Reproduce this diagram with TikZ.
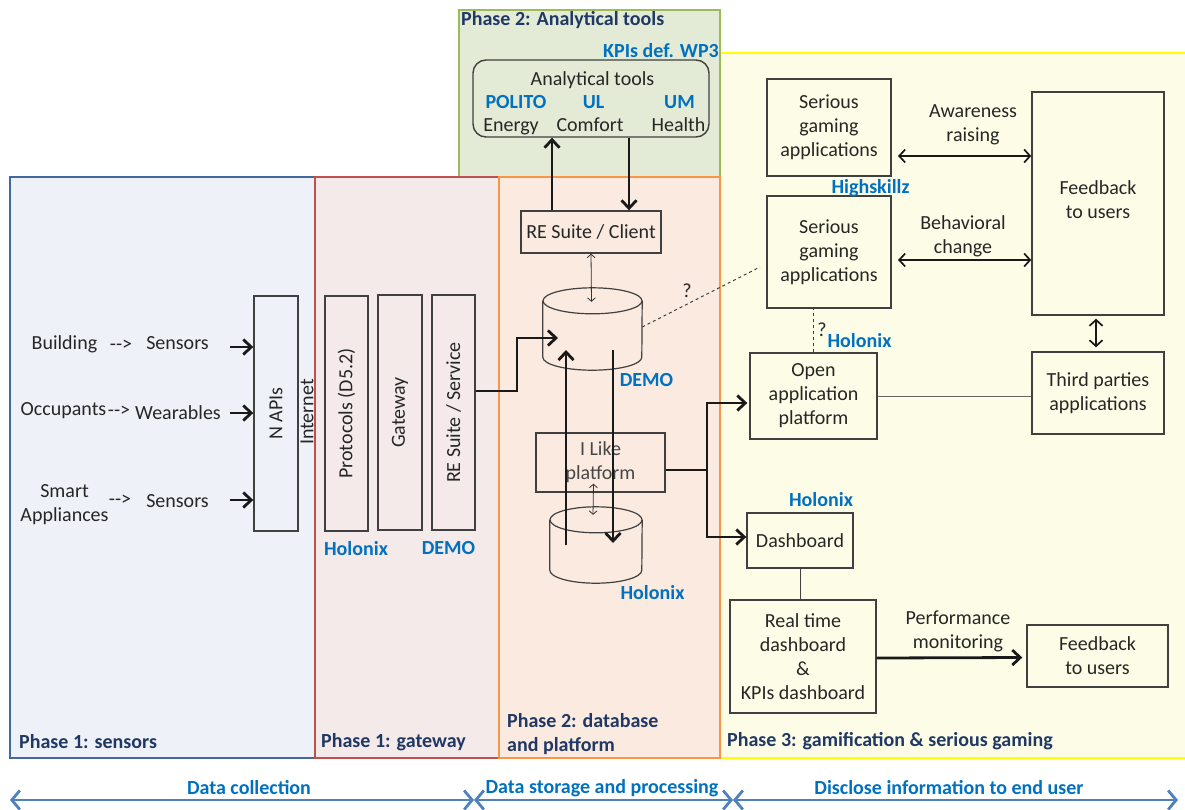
\documentclass[tikz,border=0pt]{standalone}
\usepackage{fontspec}
\setmainfont{Carlito}
\usetikzlibrary{arrows.meta,calc}
\definecolor{txt}{HTML}{262626}
\definecolor{boxc}{HTML}{404040}
\definecolor{navy}{HTML}{1F3864}
\definecolor{lblue}{HTML}{0070C0}
\definecolor{arrblue}{HTML}{4F81BD}
\definecolor{bluefill}{HTML}{EEF2F8}
\definecolor{blueline}{HTML}{43689F}
\definecolor{redfill}{HTML}{F5EAEA}
\definecolor{redline}{HTML}{C0504D}
\definecolor{orfill}{HTML}{FBEADF}
\definecolor{orline}{HTML}{F79646}
\definecolor{grfill}{HTML}{E3EBD6}
\definecolor{grline}{HTML}{9BBB59}
\definecolor{yefill}{HTML}{FDFDE7}
\definecolor{yeline}{HTML}{FFFF00}
\begin{document}
\begin{tikzpicture}[x=1pt,y=-1pt,
  every node/.style={font=\fontsize{20}{24}\selectfont, text=txt, inner sep=0pt, align=center},
  box/.style={draw=boxc, line width=1.4pt},
  lbl/.style={text=lblue, font=\fontsize{20}{24}\selectfont\bfseries},
  phaselbl/.style={text=navy, font=\fontsize{20}{24}\selectfont\bfseries, anchor=west, align=left},
  cyl/.style={draw=boxc, line width=1.2pt},
  tarr/.style={line width=2.8pt, draw=black!90, -{Straight Barb[length=8pt,width=15pt]}},
  tline/.style={line width=2.8pt, draw=black!90},
  darr/.style={line width=1.7pt, draw=black!90, {Straight Barb[length=6pt,width=13pt]}-{Straight Barb[length=6pt,width=13pt]}},
  sarr/.style={line width=0.8pt, draw=black!80, {Straight Barb[length=3.5pt,width=8pt]}-{Straight Barb[length=3.5pt,width=8pt]}},
  barr/.style={line width=2.8pt, draw=arrblue, {Straight Barb[length=8pt,width=19pt]}-{Straight Barb[length=8pt,width=19pt]}},
  bottxt/.style={text=lblue, font=\fontsize{20}{24}\selectfont\bfseries}
]
\useasboundingbox (0,0) rectangle (1185,809);
% regions
\fill[yefill] (720,53) rectangle (1185,758);
\draw[yeline, line width=2.5pt] (720,53) -- (1185,53);
\draw[yeline, line width=2.5pt] (720,758) -- (1185,758);
\draw[grline, fill=grfill, line width=2pt] (459,10) rectangle (720,177);
\draw[blueline, fill=bluefill, line width=2pt] (10,177) rectangle (315,758);
\draw[redline, fill=redfill, line width=2pt] (315,177) rectangle (499,758);
\draw[orline, fill=orfill, line width=2pt] (499,177) rectangle (720,758);

% phase labels
\node[phaselbl] (ph2a) at (461,20) {Phase 2: Analytical tools};
\node[lbl, anchor=east] (kpi) at (719,51) {KPIs def. WP3};
\node[phaselbl] (ph1s) at (19,742) {Phase 1: sensors};
\node[phaselbl] (ph1g) at (321,742) {Phase 1: gateway};
\node[phaselbl] (ph2d) at (507,734) {Phase 2: database\\and platform};
\node[phaselbl] (ph3) at (727,741) {Phase 3: gamification \& serious gaming};

% analytical tools
\node[box, rounded corners=13pt, minimum width=236pt, minimum height=77pt] (anal) at (591,98.5) {};
\node (antitle) at (592.5,80) {Analytical tools};
\node[lbl] (polito) at (516,102) {POLITO};
\node[lbl] (ul) at (593.5,102) {UL};
\node[lbl] (um) at (679.5,102) {UM};
\node[anchor=base] (energy) at (511,131) {Energy};
\node[anchor=base] (comfort) at (590,131) {Comfort};
\node[anchor=base] (health) at (678.5,131) {Health};

% client
\node[box, minimum width=140pt, minimum height=42pt] (client) at (591,232) {RE Suite / Client};
\draw[tarr] ([xshift=-39pt]client.north) -- ([xshift=-39pt]anal.south);
\draw[tarr] ([xshift=38pt]anal.south) -- ([xshift=38pt]client.north);

% cylinders
\node[minimum width=99pt, minimum height=82pt] (demo) at (592.5,329) {};
\draw[cyl] ($(demo.north west)+(0,13)$) -- ($(demo.south west)+(0,-13)$) arc[start angle=180,end angle=360,x radius=49.5pt,y radius=13pt] -- ($(demo.north east)+(0,13)$);
\draw[cyl] ($(demo.north)+(0,13)$) ellipse [x radius=49.5pt, y radius=13pt];
\node[lbl] (demolbl) at (646.5,380) {DEMO};

\node[minimum width=92pt, minimum height=76pt] (holcyl) at (596,545) {};
\draw[cyl] ($(holcyl.north west)+(0,13)$) -- ($(holcyl.south west)+(0,-13)$) arc[start angle=180,end angle=360,x radius=46pt,y radius=13pt] -- ($(holcyl.north east)+(0,13)$);
\draw[cyl] ($(holcyl.north)+(0,13)$) ellipse [x radius=46pt, y radius=13pt];
\node[lbl] (hollbl) at (652.5,593) {Holonix};

\draw[sarr] (client.south) -- ($(demo.north)+(-1,14)$);

% I like
\node[box, minimum width=129pt, minimum height=59pt, text=txt!85] (ilike) at (600.5,462.5) {I Like\\platform};
\draw[sarr] ($(ilike.south)+(-7,-9)$) -- ($(holcyl.north)+(-3,8)$);

\coordinate (upS) at (566,545);
\coordinate (upE) at (566,350);
\coordinate (dnS) at (613,350);
\coordinate (dnE) at (613,543);
\draw[tarr] (upS) -- (upE);
\draw[tarr] (dnS) -- (dnE);

% left sensors
\node (bld) at (64.5,344) {Building};
\node (d1) at (121,345) {-{}->};
\node (sen1) at (177.5,343) {Sensors};
\node (occ) at (63.5,411) {Occupants};
\node (d2) at (119,411) {-{}->};
\node (wear) at (178,413) {Wearables};
\node (smart) at (64.5,505) {Smart\\Appliances};
\node (d3) at (120,500) {-{}->};
\node (sen3) at (177.5,501) {Sensors};

\node[box, minimum width=44pt, minimum height=235pt] (napis) at (276,413.5) {};
\node[rotate=90] (napist) at (276,413.5) {N APIs};
\node[rotate=90] (inet) at (307,412) {Internet};
\coordinate (a1) at (230,347);
\coordinate (a2) at (230,413);
\coordinate (a3) at (230,500);
\draw[tarr] (a1) -- (a1 -| napis.west);
\draw[tarr] (a2) -- (a2 -| napis.west);
\draw[tarr] (a3) -- (a3 -| napis.west);

\node[box, minimum width=43pt, minimum height=235pt] (proto) at (346.5,413.5) {};
\node[rotate=90] (protot) at (346.5,413.5) {Protocols (D5.2)};
\node[box, minimum width=44pt, minimum height=235pt] (gate) at (400,412.5) {};
\node[rotate=90] (gatet) at (400,412.5) {Gateway};
\node[box, minimum width=43pt, minimum height=235pt] (serv) at (453.5,412.5) {};
\node[rotate=90] (servt) at (453.5,412.5) {RE Suite / Service};
\node[lbl] (hol1) at (356,549) {Holonix};
\node[lbl] (demo1) at (448.5,548) {DEMO};

\coordinate (sv1) at (517,391);
\coordinate (sv2) at (558,338);
\draw[tarr] (serv.east |- sv1) -- (sv1) -- (sv1 |- sv2) -- (sv2);

% right side
\node[box, minimum width=124pt, minimum height=97pt] (sg1) at (829,127.5) {Serious\\gaming\\applications};
\node[box, minimum width=124pt, minimum height=112pt] (sg2) at (829,252) {Serious\\gaming\\applications};
\node[lbl] (hsk) at (870.5,188) {Highskillz};
\node[box, minimum width=132pt, minimum height=223pt] (fb1) at (1098,203.5) {};
\node (fb1t) at (1098,200) {Feedback\\to users};
\node[box, minimum width=132pt, minimum height=82pt] (third) at (1098,393) {Third parties\\applications};
\node[box, minimum width=127pt, minimum height=86pt] (open) at (813.5,396) {Open\\application\\platform};
\node (aware) at (973,125) {Awareness\\raising};
\node (behav) at (963,236) {Behavioral\\change};
\coordinate (aw) at (898,156);
\coordinate (bh) at (898,260);
\draw[darr] (aw) -- (aw -| fb1.west);
\draw[darr] (bh) -- (bh -| fb1.west);
\draw[darr] ($(fb1.south)+(-2,3)$) -- ($(third.north)+(-2,-4)$);
\draw[line width=1pt, draw=boxc!80] (open.east) -- (open.east -| third.west);
\draw[dashed, line width=1pt, draw=boxc] (open.north) -- (open.north |- sg2.south);
\node (q2) at (822,330) {?};
\node[lbl] (hol2) at (859.5,341) {Holonix};

\coordinate (dq) at (760,267);
\draw[dashed, line width=1pt, draw=boxc] ($(demo.east)+(0,-2)$) -- (dq);
\node (q1) at (687,291) {?};

% dashboard and branch
\node[box, minimum width=106pt, minimum height=55pt] (dash) at (800,540.5) {Dashboard};
\node[lbl] (hol3) at (821,500) {Holonix};
\coordinate (br) at (707,470);
\draw[tline] (ilike.east |- br) -- (br);
\draw[tarr] (br) -- ($(br)+(0,-67)$) -- ($(open.west)+(-2,7)$);
\draw[tarr] (br) -- ($(br)+(0,67)$) -- ($(dash.west)+(0,-3.5)$);

\node[box, minimum width=146pt, minimum height=113pt] (rt) at (803,656.5) {Real time\\dashboard\\\&\\KPIs dashboard};
\draw[line width=1pt, draw=boxc] (dash.south) -- (dash.south |- rt.north);
\node[box, minimum width=141pt, minimum height=62pt] (fb2) at (1097.5,656) {Feedback\\to users};
\node (perf) at (958,631) {Performance\\monitoring};
\draw[tarr] ($(rt.east)+(0,1.5)$) -- ($(fb2.west)+(-4,1.5)$);

% bottom arrows
\coordinate (b0) at (10,800);
\coordinate (b1) at (474,800);
\coordinate (b2) at (733,800);
\coordinate (b3) at (1178,800);
\draw[barr] (b0) -- (b1);
\draw[barr] (b1) -- (b2);
\draw[barr] (b2) -- (b3);
\node[bottxt] (dc) at (249,788) {Data collection};
\node[bottxt] (ds) at (602,788) {Data storage and processing};
\node[bottxt] (di) at (949,788) {Disclose information to end user};
\end{tikzpicture}
\end{document}
